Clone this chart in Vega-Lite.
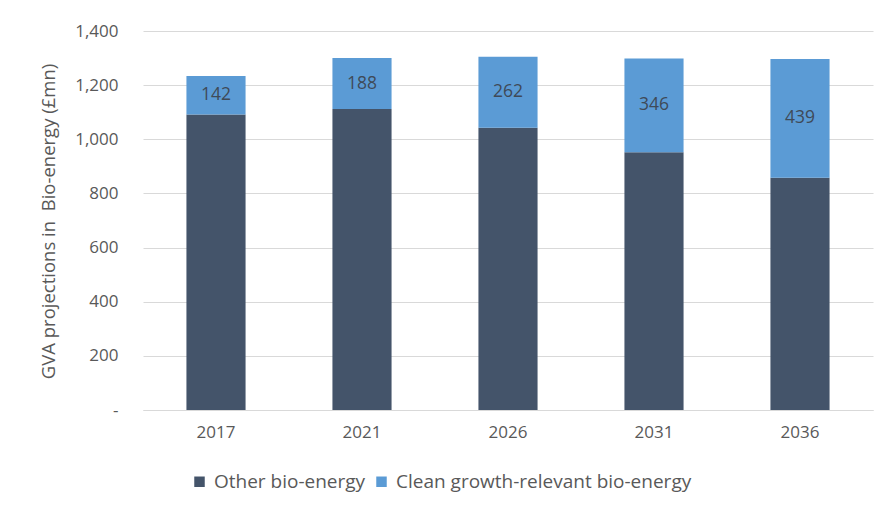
{
  "$schema": "https://vega.github.io/schema/vega-lite/v6.json",
  "width": 730,
  "height": 379,
  "autosize": "none",
  "padding": {"left": 143, "top": 31, "right": 8, "bottom": 98},
  "background": "white",
  "data": {
    "values": [
      {"year": "2017", "series": "Other bio-energy", "rank": 1, "value": 1092},
      {"year": "2017", "series": "Clean growth-relevant bio-energy", "rank": 2, "value": 142},
      {"year": "2021", "series": "Other bio-energy", "rank": 1, "value": 1112},
      {"year": "2021", "series": "Clean growth-relevant bio-energy", "rank": 2, "value": 188},
      {"year": "2026", "series": "Other bio-energy", "rank": 1, "value": 1043},
      {"year": "2026", "series": "Clean growth-relevant bio-energy", "rank": 2, "value": 262},
      {"year": "2031", "series": "Other bio-energy", "rank": 1, "value": 952},
      {"year": "2031", "series": "Clean growth-relevant bio-energy", "rank": 2, "value": 346},
      {"year": "2036", "series": "Other bio-energy", "rank": 1, "value": 858},
      {"year": "2036", "series": "Clean growth-relevant bio-energy", "rank": 2, "value": 439}
    ]
  },
  "encoding": {
    "x": {
      "field": "year",
      "type": "nominal",
      "sort": null,
      "scale": {"paddingInner": 0.595, "paddingOuter": 0.2975},
      "axis": {
        "title": null,
        "labelAngle": 0,
        "ticks": false,
        "domain": true,
        "domainColor": "#d9d9d9",
        "labelPadding": 14,
        "labelFontSize": 17,
        "labelColor": "#595959",
        "labelFont": "Open Sans"
      }
    }
  },
  "layer": [
    {
      "mark": {"type": "bar"},
      "encoding": {
        "y": {
          "field": "value",
          "type": "quantitative",
          "stack": "zero",
          "scale": {"domain": [0, 1400], "nice": false},
          "axis": {
            "title": "GVA projections in\u00a0 Bio-energy (£mn)",
            "titleFont": "Open Sans",
            "titleFontSize": 18.5,
            "titleFontWeight": "normal",
            "titleColor": "#595959",
            "titleAngle": -90,
            "titleX": -95,
            "titleY": 190,
            "titleAlign": "center",
            "titleBaseline": "middle",
            "titleLimit": 0,
            "values": [0, 200, 400, 600, 800, 1000, 1200, 1400],
            "labelExpr": "datum.value == 0 ? '-' : format(datum.value, ',')",
            "ticks": false,
            "domain": false,
            "grid": true,
            "gridColor": "#d9d9d9",
            "gridWidth": 1,
            "labelPadding": 25,
            "labelFontSize": 17,
            "labelColor": "#595959",
            "labelFont": "Open Sans"
          }
        },
        "color": {
          "field": "series",
          "type": "nominal",
          "scale": {
            "domain": ["Other bio-energy", "Clean growth-relevant bio-energy"],
            "range": ["#44546a", "#5b9bd5"]
          },
          "legend": {
            "title": null,
            "orient": "none",
            "direction": "horizontal",
            "legendX": 47,
            "legendY": 441,
            "symbolType": "square",
            "symbolSize": 110,
            "symbolStrokeWidth": 0,
            "labelFont": "Open Sans",
            "labelFontSize": 19,
            "labelLimit": 0,
            "labelColor": "#595959",
            "labelOffset": 5,
            "columnPadding": 6
          }
        },
        "order": {"field": "rank", "type": "quantitative"}
      }
    },
    {
      "transform": [
        {"stack": "value", "groupby": ["year"], "sort": [{"field": "rank", "order": "ascending"}], "as": ["v0", "v1"]},
        {"filter": "datum.rank == 2"},
        {"calculate": "(datum.v0 + datum.v1) / 2", "as": "mid"}
      ],
      "mark": {"type": "text", "font": "Open Sans", "fontSize": 17.5, "color": "#3f4a58", "baseline": "middle", "align": "center"},
      "encoding": {
        "y": {"field": "mid", "type": "quantitative"},
        "text": {"field": "value", "type": "quantitative"}
      }
    }
  ],
  "config": {
    "view": {"stroke": null}
  }
}
